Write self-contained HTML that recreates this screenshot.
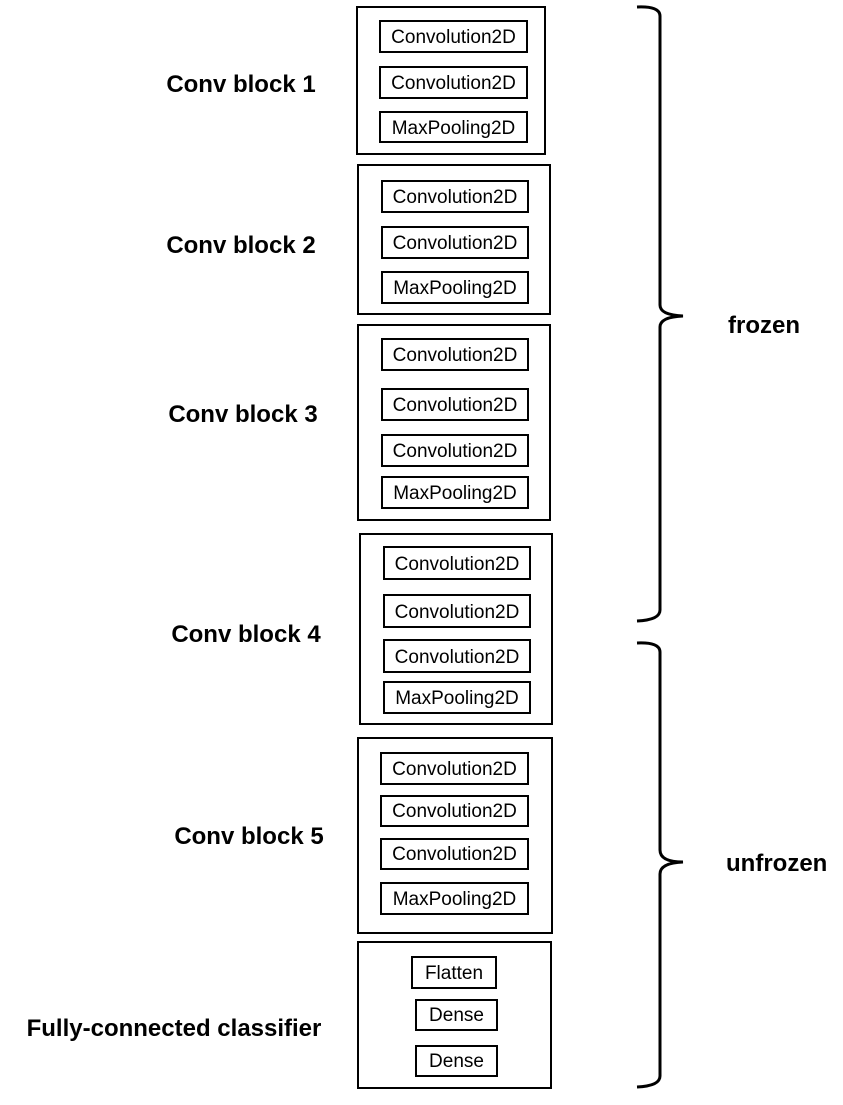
<!DOCTYPE html>
<html><head><meta charset="utf-8"><style>
html,body{margin:0;padding:0;background:#fff;}
svg{display:block;}
text{font-family:"Liberation Sans",sans-serif;fill:#000;}
.b{font-weight:bold;font-size:24px;}
.i{font-size:19px;}
</style></head><body>
<svg width="843" height="1105" viewBox="0 0 843 1105" xmlns="http://www.w3.org/2000/svg">
<g fill="none" stroke="#000" stroke-width="2">
<rect x="357" y="7" width="188" height="147"/>
<rect x="380" y="21" width="147" height="31"/>
<rect x="380" y="67" width="147" height="31"/>
<rect x="380" y="112" width="147" height="30"/>

<rect x="358" y="165" width="192" height="149"/>
<rect x="382" y="181" width="146" height="31"/>
<rect x="382" y="227" width="146" height="31"/>
<rect x="382" y="272" width="146" height="31"/>

<rect x="358" y="325" width="192" height="195"/>
<rect x="382" y="339" width="146" height="31"/>
<rect x="382" y="389" width="146" height="31"/>
<rect x="382" y="435" width="146" height="31"/>
<rect x="382" y="477" width="146" height="31"/>

<rect x="360" y="534" width="192" height="190"/>
<rect x="384" y="547" width="146" height="32"/>
<rect x="384" y="595" width="146" height="32"/>
<rect x="384" y="640" width="146" height="32"/>
<rect x="384" y="682" width="146" height="31"/>

<rect x="358" y="738" width="194" height="195"/>
<rect x="381" y="753" width="147" height="31"/>
<rect x="381" y="796" width="147" height="30"/>
<rect x="381" y="839" width="147" height="30"/>
<rect x="381" y="883" width="147" height="31"/>

<rect x="358" y="942" width="193" height="146"/>
<rect x="412" y="957" width="84" height="31"/>
<rect x="416" y="1000" width="81" height="30"/>
<rect x="416" y="1046" width="81" height="30"/>
</g>
<g fill="none" stroke="#000" stroke-width="3">
<path d="M637 7 Q660 6 660 16 L660 305 Q660 315 683 316 Q660 317 660 327 L660 610 Q660 620 637 621"/>
<path d="M637 643 Q660 642 660 652 L660 850 Q660 862 683 862 Q660 863 660 874 L660 1076 Q660 1086 637 1087"/>
</g>
<g class="i" text-anchor="middle">
<text x="453.5" y="43">Convolution2D</text>
<text x="453.5" y="89">Convolution2D</text>
<text x="453.5" y="134">MaxPooling2D</text>
<text x="455" y="203">Convolution2D</text>
<text x="455" y="249">Convolution2D</text>
<text x="455" y="294">MaxPooling2D</text>
<text x="455" y="361">Convolution2D</text>
<text x="455" y="411">Convolution2D</text>
<text x="455" y="457">Convolution2D</text>
<text x="455" y="499">MaxPooling2D</text>
<text x="457" y="570">Convolution2D</text>
<text x="457" y="618">Convolution2D</text>
<text x="457" y="663">Convolution2D</text>
<text x="457" y="704">MaxPooling2D</text>
<text x="454.5" y="775">Convolution2D</text>
<text x="454.5" y="817">Convolution2D</text>
<text x="454.5" y="860">Convolution2D</text>
<text x="454.5" y="905">MaxPooling2D</text>
<text x="454" y="979">Flatten</text>
<text x="456.5" y="1021">Dense</text>
<text x="456.5" y="1067">Dense</text>
</g>
<g class="b" text-anchor="middle">
<text x="241" y="92">Conv block 1</text>
<text x="241" y="253">Conv block 2</text>
<text x="243" y="422">Conv block 3</text>
<text x="246" y="642">Conv block 4</text>
<text x="249" y="844">Conv block 5</text>
<text x="174" y="1036">Fully-connected classifier</text>
</g>
<text class="b" x="728" y="333">frozen</text>
<text class="b" x="726" y="871">unfrozen</text>
</svg>
</body></html>
